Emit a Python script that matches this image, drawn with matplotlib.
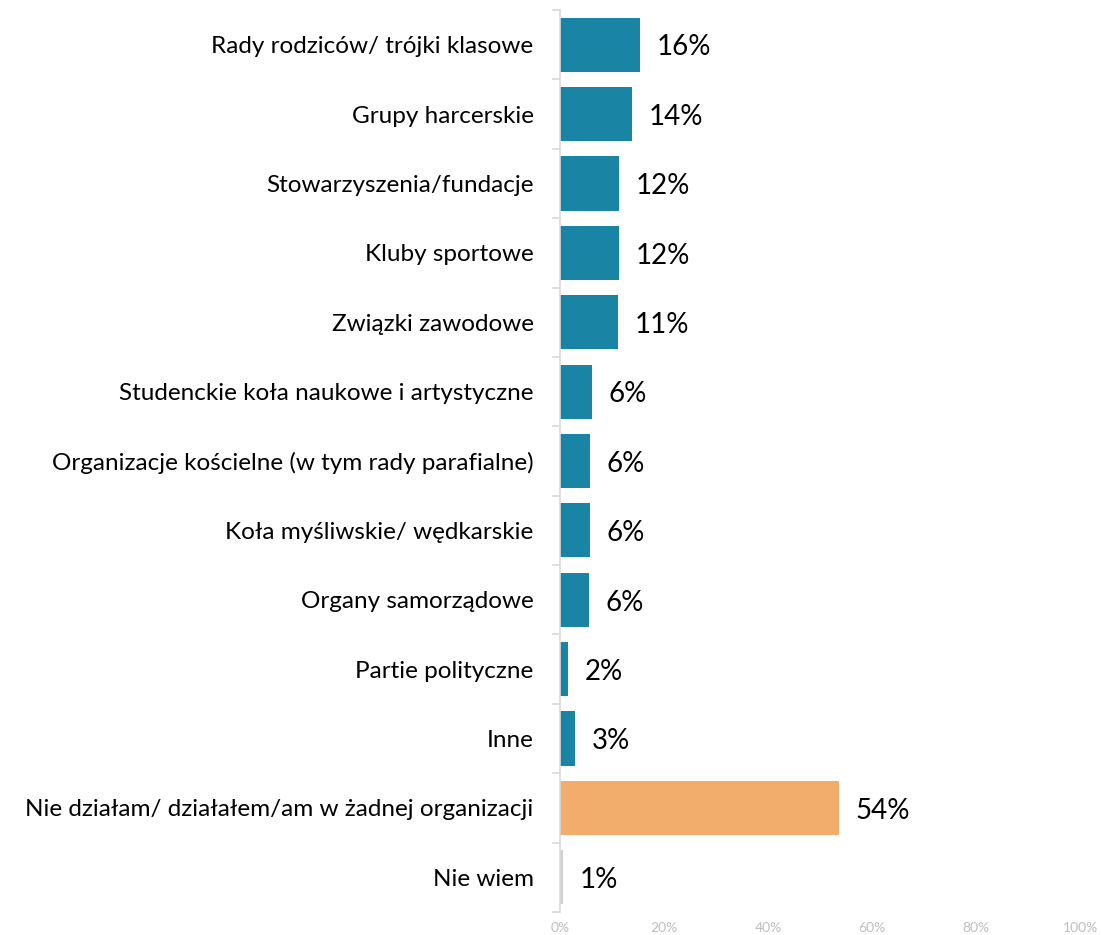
import matplotlib
matplotlib.use("Agg")
import matplotlib.pyplot as plt
from matplotlib.ticker import FuncFormatter, FixedLocator

categories = [
    "Rady rodziców/ trójki klasowe",
    "Grupy harcerskie",
    "Stowarzyszenia/fundacje",
    "Kluby sportowe",
    "Związki zawodowe",
    "Studenckie koła naukowe i artystyczne",
    "Organizacje kościelne (w tym rady parafialne)",
    "Koła myśliwskie/ wędkarskie",
    "Organy samorządowe",
    "Partie polityczne",
    "Inne",
    "Nie działam/ działałem/am w żadnej organizacji",
    "Nie wiem",
]
values = [15.4, 13.8, 11.4, 11.3, 11.2, 6.2, 5.8, 5.7, 5.6, 1.5, 2.9, 53.7, 0.5]
labels = ["16%", "14%", "12%", "12%", "11%", "6%", "6%", "6%", "6%", "2%", "3%", "54%", "1%"]
xticks = [0, 20, 40, 60, 80, 100]

teal = "#1A84A4"
orange = "#F2AC6C"
grey = "#D0D0D0"
colors = [teal] * 11 + [orange, grey]

plt.rcParams['font.family'] = ['Lato', 'DejaVu Sans']

fig = plt.figure(figsize=(11.02, 9.35), dpi=100)
ax = fig.add_axes([560 / 1102, 1 - 912 / 935, 520 / 1102, 902 / 935])

n = len(categories)
ypos = list(range(n))
ax.barh(ypos, values, height=0.78, color=colors)
for y, v, lab in zip(ypos, values, labels):
    ax.annotate(lab, (v, y), xytext=(12, -2), textcoords="offset points",
                ha="left", va="center", fontsize=20, color="black")

ax.set_ylim(n - 0.5, -0.5)
ax.set_xlim(0, 100)
ax.set_yticks(ypos)
ax.set_yticklabels(categories, fontsize=17.5)
ax.yaxis.set_minor_locator(FixedLocator([i - 0.5 for i in range(n + 1)]))
ax.tick_params(axis="y", which="major", length=0, pad=19)
ax.tick_params(axis="y", which="minor", length=6, color="#D9D9D9", width=1.2)
ax.set_xticks(xticks)
ax.xaxis.set_major_formatter(FuncFormatter(lambda x, p: f"{int(x)}%"))
ax.tick_params(axis="x", length=0, labelsize=10, labelcolor="#BFBFBF", pad=7)

for s in ["top", "right", "bottom"]:
    ax.spines[s].set_visible(False)
ax.spines["left"].set_color("#D9D9D9")
ax.spines["left"].set_linewidth(1.2)

fig.savefig("out.png", dpi=100)
